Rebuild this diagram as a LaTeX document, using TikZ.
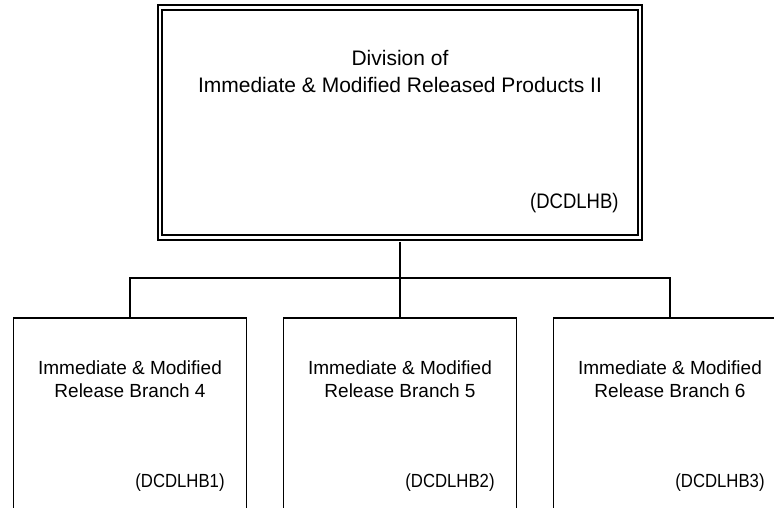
\documentclass[tikz,border=0pt]{standalone}
\usepackage{fontspec}
\setmainfont{Liberation Sans}
\usepackage{graphicx}
\begin{document}
\begin{tikzpicture}[x=1pt,y=-1pt,
  topbox/.style={draw, line width=2pt, double, double distance=2.5pt,
    minimum width=480pt, minimum height=230pt, inner sep=0pt},
  branchbox/.style={draw, line width=1.6pt, minimum width=233pt,
    minimum height=260pt, anchor=north, inner sep=0pt},
  conn/.style={line width=1.6pt},
  bigtext/.style={font=\fontsize{21}{27}\selectfont, inner sep=0pt, anchor=base},
  smalltext/.style={font=\fontsize{19}{23}\selectfont, inner sep=0pt, anchor=base},
]
\useasboundingbox (0,0) rectangle (774,507);
\clip (0,0) rectangle (774,507);

% top box
\node[topbox] (top) at (400,122.5) {};
\node[bigtext] (t1) at (400,65) {Division of};
\node[bigtext] (t2) at (400,92) {Immediate \& Modified Released Products II};
\node[bigtext, anchor=base west] (tc) at (530,208) {\scalebox{0.88}[1]{(DCDLHB)}};

% branch boxes
\node[branchbox] (b1) at (130,317) {};
\node[branchbox] (b2) at (400,317) {};
\node[branchbox] (b3) at (670,317) {};

\node[smalltext] (b1a) at (130,374) {Immediate \& Modified};
\node[smalltext] (b1b) at (130,397) {Release Branch 4};
\node[smalltext] (b1c) at (180,487) {\scalebox{0.88}[1]{(DCDLHB1)}};

\node[smalltext] (b2a) at (400,374) {Immediate \& Modified};
\node[smalltext] (b2b) at (400,397) {Release Branch 5};
\node[smalltext] (b2c) at (450,487) {\scalebox{0.88}[1]{(DCDLHB2)}};

\node[smalltext] (b3a) at (670,374) {Immediate \& Modified};
\node[smalltext] (b3b) at (670,397) {Release Branch 6};
\node[smalltext] (b3c) at (720,487) {\scalebox{0.88}[1]{(DCDLHB3)}};

% connectors
\draw[conn] ([yshift=-3.25pt]top.south) -- (b2.north);
\draw[conn] (b1.north) -- ++(0,-39) -| (b3.north);
\end{tikzpicture}
\end{document}
